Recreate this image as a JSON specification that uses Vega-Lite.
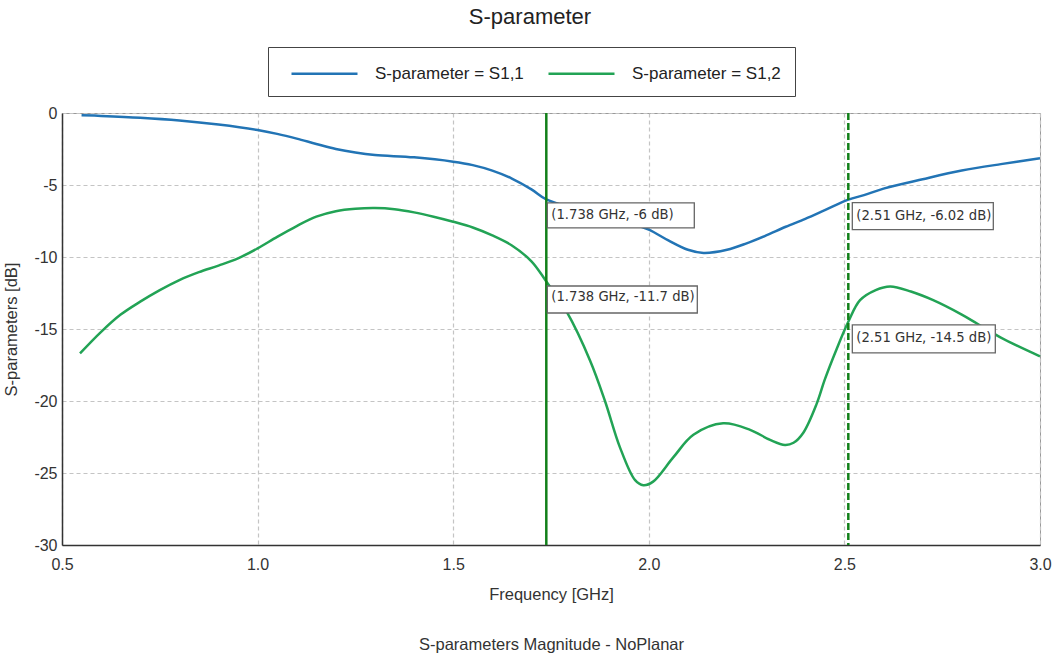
{
  "$schema": "https://vega.github.io/schema/vega-lite/v6.json",
  "width": 978,
  "height": 432,
  "autosize": {"type": "none"},
  "padding": {"left": 62, "top": 113, "right": 13, "bottom": 113},
  "background": "white",
  "title": {"text": "S-parameter", "fontSize": 22, "font": "Liberation Sans", "fontWeight": "normal", "color": "#222", "anchor": "middle", "frame": "group", "dx": -21, "offset": 18},
  "config": {
    "view": {"stroke": "#999", "strokeWidth": 1},
    "font": "Liberation Sans",
    "axis": {
      "grid": true, "gridDash": [4, 3], "gridColor": "#c4c4c4", "gridWidth": 1.2,
      "domainColor": "#333", "domainWidth": 1.5, "ticks": false, "labelFlush": false,
      "labelFont": "Liberation Sans", "labelFontSize": 16, "labelColor": "#333",
      "titleFont": "Liberation Sans", "titleFontSize": 16.5, "titleColor": "#333", "titleFontWeight": "normal"
    }
  },
  "datasets": {
    "curves": [
      {"series": "S-parameter = S1,1", "f": 0.55, "db": -0.15},
      {"series": "S-parameter = S1,1", "f": 0.6, "db": -0.2},
      {"series": "S-parameter = S1,1", "f": 0.7, "db": -0.33},
      {"series": "S-parameter = S1,1", "f": 0.8, "db": -0.52},
      {"series": "S-parameter = S1,1", "f": 0.9, "db": -0.8},
      {"series": "S-parameter = S1,1", "f": 1.0, "db": -1.18},
      {"series": "S-parameter = S1,1", "f": 1.05, "db": -1.45},
      {"series": "S-parameter = S1,1", "f": 1.1, "db": -1.78},
      {"series": "S-parameter = S1,1", "f": 1.15, "db": -2.15},
      {"series": "S-parameter = S1,1", "f": 1.2, "db": -2.5},
      {"series": "S-parameter = S1,1", "f": 1.25, "db": -2.75},
      {"series": "S-parameter = S1,1", "f": 1.3, "db": -2.92},
      {"series": "S-parameter = S1,1", "f": 1.4, "db": -3.08},
      {"series": "S-parameter = S1,1", "f": 1.5, "db": -3.38},
      {"series": "S-parameter = S1,1", "f": 1.55, "db": -3.62},
      {"series": "S-parameter = S1,1", "f": 1.6, "db": -4.0},
      {"series": "S-parameter = S1,1", "f": 1.65, "db": -4.55},
      {"series": "S-parameter = S1,1", "f": 1.7, "db": -5.3},
      {"series": "S-parameter = S1,1", "f": 1.738, "db": -6.0},
      {"series": "S-parameter = S1,1", "f": 1.8, "db": -6.55},
      {"series": "S-parameter = S1,1", "f": 1.85, "db": -6.85},
      {"series": "S-parameter = S1,1", "f": 1.9, "db": -7.2},
      {"series": "S-parameter = S1,1", "f": 1.95, "db": -7.6},
      {"series": "S-parameter = S1,1", "f": 2.0, "db": -8.1},
      {"series": "S-parameter = S1,1", "f": 2.05, "db": -8.85},
      {"series": "S-parameter = S1,1", "f": 2.1, "db": -9.5},
      {"series": "S-parameter = S1,1", "f": 2.14, "db": -9.72},
      {"series": "S-parameter = S1,1", "f": 2.2, "db": -9.5},
      {"series": "S-parameter = S1,1", "f": 2.25, "db": -9.05},
      {"series": "S-parameter = S1,1", "f": 2.3, "db": -8.5},
      {"series": "S-parameter = S1,1", "f": 2.35, "db": -7.9},
      {"series": "S-parameter = S1,1", "f": 2.4, "db": -7.35},
      {"series": "S-parameter = S1,1", "f": 2.45, "db": -6.75},
      {"series": "S-parameter = S1,1", "f": 2.51, "db": -6.02},
      {"series": "S-parameter = S1,1", "f": 2.55, "db": -5.7},
      {"series": "S-parameter = S1,1", "f": 2.6, "db": -5.25},
      {"series": "S-parameter = S1,1", "f": 2.7, "db": -4.6},
      {"series": "S-parameter = S1,1", "f": 2.8, "db": -4.0},
      {"series": "S-parameter = S1,1", "f": 2.9, "db": -3.55},
      {"series": "S-parameter = S1,1", "f": 3.0, "db": -3.15},
      {"series": "S-parameter = S1,2", "f": 0.546, "db": -16.7},
      {"series": "S-parameter = S1,2", "f": 0.6, "db": -15.2},
      {"series": "S-parameter = S1,2", "f": 0.65, "db": -14.0},
      {"series": "S-parameter = S1,2", "f": 0.7, "db": -13.1},
      {"series": "S-parameter = S1,2", "f": 0.75, "db": -12.3},
      {"series": "S-parameter = S1,2", "f": 0.8, "db": -11.6},
      {"series": "S-parameter = S1,2", "f": 0.85, "db": -11.05},
      {"series": "S-parameter = S1,2", "f": 0.9, "db": -10.6},
      {"series": "S-parameter = S1,2", "f": 0.95, "db": -10.1},
      {"series": "S-parameter = S1,2", "f": 1.0, "db": -9.4},
      {"series": "S-parameter = S1,2", "f": 1.05, "db": -8.6},
      {"series": "S-parameter = S1,2", "f": 1.1, "db": -7.85},
      {"series": "S-parameter = S1,2", "f": 1.15, "db": -7.2},
      {"series": "S-parameter = S1,2", "f": 1.2, "db": -6.82},
      {"series": "S-parameter = S1,2", "f": 1.25, "db": -6.65},
      {"series": "S-parameter = S1,2", "f": 1.3, "db": -6.6},
      {"series": "S-parameter = S1,2", "f": 1.35, "db": -6.68},
      {"series": "S-parameter = S1,2", "f": 1.4, "db": -6.9},
      {"series": "S-parameter = S1,2", "f": 1.45, "db": -7.2},
      {"series": "S-parameter = S1,2", "f": 1.5, "db": -7.55},
      {"series": "S-parameter = S1,2", "f": 1.55, "db": -7.95},
      {"series": "S-parameter = S1,2", "f": 1.6, "db": -8.5},
      {"series": "S-parameter = S1,2", "f": 1.65, "db": -9.2},
      {"series": "S-parameter = S1,2", "f": 1.7, "db": -10.3},
      {"series": "S-parameter = S1,2", "f": 1.738, "db": -11.7},
      {"series": "S-parameter = S1,2", "f": 1.79, "db": -13.8},
      {"series": "S-parameter = S1,2", "f": 1.85, "db": -17.2},
      {"series": "S-parameter = S1,2", "f": 1.888, "db": -20.0},
      {"series": "S-parameter = S1,2", "f": 1.926, "db": -23.2},
      {"series": "S-parameter = S1,2", "f": 1.965, "db": -25.5},
      {"series": "S-parameter = S1,2", "f": 1.986, "db": -25.85},
      {"series": "S-parameter = S1,2", "f": 2.011, "db": -25.6},
      {"series": "S-parameter = S1,2", "f": 2.063, "db": -23.9},
      {"series": "S-parameter = S1,2", "f": 2.114, "db": -22.35},
      {"series": "S-parameter = S1,2", "f": 2.19, "db": -21.55},
      {"series": "S-parameter = S1,2", "f": 2.259, "db": -22.0},
      {"series": "S-parameter = S1,2", "f": 2.31, "db": -22.7},
      {"series": "S-parameter = S1,2", "f": 2.348, "db": -23.05},
      {"series": "S-parameter = S1,2", "f": 2.37, "db": -22.9},
      {"series": "S-parameter = S1,2", "f": 2.395, "db": -22.2},
      {"series": "S-parameter = S1,2", "f": 2.429, "db": -20.2},
      {"series": "S-parameter = S1,2", "f": 2.45, "db": -18.5},
      {"series": "S-parameter = S1,2", "f": 2.48, "db": -16.4},
      {"series": "S-parameter = S1,2", "f": 2.51, "db": -14.5},
      {"series": "S-parameter = S1,2", "f": 2.54, "db": -13.0},
      {"series": "S-parameter = S1,2", "f": 2.58, "db": -12.3},
      {"series": "S-parameter = S1,2", "f": 2.617, "db": -12.05},
      {"series": "S-parameter = S1,2", "f": 2.67, "db": -12.4},
      {"series": "S-parameter = S1,2", "f": 2.727, "db": -13.0},
      {"series": "S-parameter = S1,2", "f": 2.8, "db": -14.0},
      {"series": "S-parameter = S1,2", "f": 2.838, "db": -14.6},
      {"series": "S-parameter = S1,2", "f": 2.9, "db": -15.6},
      {"series": "S-parameter = S1,2", "f": 3.0, "db": -16.9}
    ],
    "markers": [
      {"f": 1.738, "style": "solid"},
      {"f": 2.51, "style": "dashed"}
    ],
    "notes": [
      {"id": "a", "side": "left", "f": 1.738, "db": -6, "label": "(1.738 GHz, -6 dB)"},
      {"id": "b", "side": "left", "f": 1.738, "db": -11.7, "label": "(1.738 GHz, -11.7 dB)"},
      {"id": "c", "side": "right", "f": 2.51, "db": -6.02, "label": "(2.51 GHz, -6.02 dB)"},
      {"id": "d", "side": "right", "f": 2.51, "db": -14.5, "label": "(2.51 GHz, -14.5 dB)"}
    ]
  },
  "layer": [
    {
      "data": {"name": "curves"},
      "mark": {"type": "line", "interpolate": "catmull-rom", "strokeWidth": 2.5},
      "encoding": {
        "x": {"field": "f", "type": "quantitative", "scale": {"domain": [0.5, 3.0], "nice": false, "zero": false},
              "axis": {"values": [0.5, 1.0, 1.5, 2.0, 2.5, 3.0], "format": ".1f", "labelPadding": 11, "titlePadding": 14, "title": ["Frequency [GHz]", "S-parameters Magnitude - NoPlanar"], "titleLineHeight": 50}},
        "y": {"field": "db", "type": "quantitative", "scale": {"domain": [-30, 0], "nice": false, "zero": false},
              "axis": {"values": [0, -5, -10, -15, -20, -25, -30], "labelExpr": "'' + datum.value", "labelPadding": 5, "title": "S-parameters [dB]", "titlePadding": 14}},
        "color": {"field": "series", "type": "nominal",
                  "scale": {"domain": ["S-parameter = S1,1", "S-parameter = S1,2"], "range": ["#2274b5", "#22a355"]},
                  "legend": {"title": null, "orient": "none", "legendX": 206, "legendY": -66, "direction": "horizontal",
                             "symbolType": "M-1,0H5", "symbolSize": 484, "symbolStrokeWidth": 2.5, "symbolOffset": 8, "labelOffset": 60,
                             "labelFontSize": 17, "labelFont": "Liberation Sans", "labelColor": "#222", "columnPadding": 15,
                             "padding": 14, "strokeColor": "#444", "fillColor": "white", "labelLimit": 300}}
      }
    },
    {
      "data": {"name": "markers"},
      "mark": {"type": "rule", "color": "#12801a", "strokeWidth": 2.5},
      "encoding": {
        "x": {"field": "f", "type": "quantitative"},
        "strokeDash": {"field": "style", "type": "nominal", "scale": {"domain": ["solid", "dashed"], "range": [[1, 0], [7, 3]]}, "legend": null}
      }
    },
    {
      "data": {"name": "notes"},
      "mark": {"type": "point", "filled": true, "fill": "white", "stroke": "#666", "strokeWidth": 1.3, "opacity": 1, "size": 400},
      "encoding": {
        "x": {"field": "f", "type": "quantitative"},
        "y": {"field": "db", "type": "quantitative"},
        "shape": {"field": "id", "type": "nominal", "legend": null,
                  "scale": {"domain": ["a", "b", "c", "d"],
                            "range": ["M0.1,0.35H14.8V2.85H0.1Z", "M0.1,0.45H15.1V3.15H0.1Z", "M0.4,0.3H14.5V3.0H0.4Z", "M0.4,0.3H14.7V3.1H0.4Z"]}}
      }
    },
    {
      "data": {"name": "notes"},
      "transform": [{"filter": "datum.side == 'left'"}],
      "mark": {"type": "text", "align": "left", "baseline": "middle", "dx": 5, "dy": 16, "font": "DejaVu Sans", "fontSize": 13.2, "color": "#333"},
      "encoding": {
        "x": {"field": "f", "type": "quantitative"},
        "y": {"field": "db", "type": "quantitative"},
        "text": {"field": "label"}
      }
    },
    {
      "data": {"name": "notes"},
      "transform": [{"filter": "datum.side == 'right'"}],
      "mark": {"type": "text", "align": "left", "baseline": "middle", "dx": 8, "dy": 16, "font": "DejaVu Sans", "fontSize": 13.2, "color": "#333"},
      "encoding": {
        "x": {"field": "f", "type": "quantitative"},
        "y": {"field": "db", "type": "quantitative"},
        "text": {"field": "label"}
      }
    }
  ]
}
